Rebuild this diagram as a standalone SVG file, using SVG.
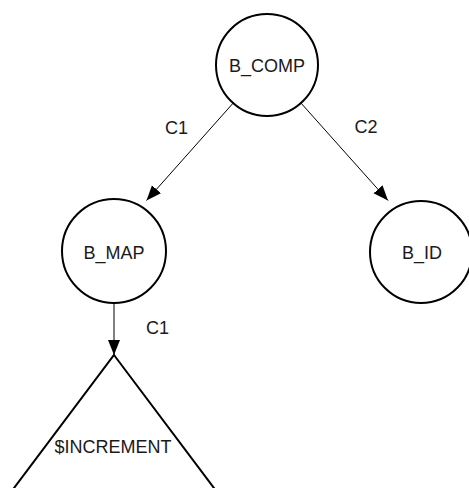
<svg xmlns="http://www.w3.org/2000/svg" width="469" height="488" viewBox="0 0 469 488">
  <style>
    .node { fill: #ffffff; stroke: #000000; stroke-width: 2; }
    .edge { fill: none; stroke: #000000; stroke-width: 1; }
    .label { font-family: "Liberation Sans", Arial, sans-serif; font-size: 18px; fill: #1a1a1a; text-anchor: middle; }
  </style>
  <defs>
    <marker id="arrow" markerUnits="userSpaceOnUse" markerWidth="16" markerHeight="14" refX="15" refY="7" orient="auto">
      <path d="M0,1 L15,7 L0,13 Z" fill="#000000"/>
    </marker>
  </defs>
  <rect width="469" height="488" fill="#ffffff"/>

  <!-- connectors (drawn first; nodes are filled white on top) -->
  <g id="edges">
    <line class="edge" x1="267" y1="65" x2="146.5" y2="200.5" marker-end="url(#arrow)"/>
    <line class="edge" x1="267" y1="65" x2="388" y2="200.5" marker-end="url(#arrow)"/>
    <line class="edge" x1="114" y1="251" x2="114" y2="355" stroke="#555555" marker-end="url(#arrow)"/>
    <text class="label" x="176.5" y="134">C1</text>
    <text class="label" x="366" y="133">C2</text>
    <text class="label" x="157.5" y="334">C1</text>
  </g>

  <g id="b_comp">
    <circle class="node" cx="267" cy="65" r="51"/>
    <text class="label" x="267" y="72">B_COMP</text>
  </g>

  <g id="b_map">
    <circle class="node" cx="114" cy="251" r="52"/>
    <text class="label" x="114" y="259">B_MAP</text>
  </g>

  <g id="b_id">
    <circle class="node" cx="421" cy="252" r="51"/>
    <text class="label" x="422" y="259">B_ID</text>
  </g>

  <g id="increment">
    <polygon class="node" points="114,355 223,500 5,500"/>
    <text class="label" x="113" y="453">$INCREMENT</text>
  </g>
</svg>
